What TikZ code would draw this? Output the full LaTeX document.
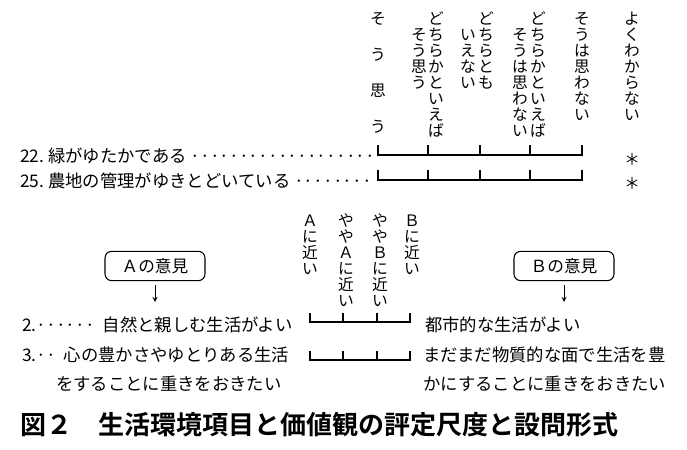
\documentclass[tikz,border=0pt]{standalone}
\usepackage{fontspec}
\setmainfont{Noto Sans CJK JP}
\newfontfamily\jpb{Noto Sans CJK JP Bold}
\makeatletter
\newdimen\vpitch
\def\vtxi#1{\ifx#1\relax\else\hbox to 1em{\hss\vrule height 0.88em depth 0.12em width 0pt #1\hss}\vskip\vpitch\expandafter\vtxi\fi}
\newcommand\vtx[2][0.02em]{\vbox{\offinterlineskip\vpitch=#1\vtxi#2\relax}}
\makeatother
\begin{document}
\begin{tikzpicture}[x=0.75pt,y=-0.75pt,
  vt/.style={anchor=north,inner sep=0pt,font=\fontsize{11.8}{12}\selectfont},
  lab/.style={anchor=west,inner sep=0pt,font=\fontsize{13}{14}\selectfont},
  scl/.style={line width=0.9pt},
  box/.style={draw,rounded corners=5pt,line width=0.8pt,minimum width=75pt,minimum height=22pt,font=\fontsize{12.5}{14}\selectfont},
  arr/.style={->,>=stealth,line width=0.7pt}]
\useasboundingbox (0,0) rectangle (687,450);
% top vertical headers
\node[vt] (h1) at (378,10) {\vtx[1.3em]{そう思う}};
\node[vt] (h2a) at (436,10) {\vtx{どちらかといえば}};
\node[vt] (h2b) at (419,26) {\vtx{そう思う}};
\node[vt] (h3a) at (486,10) {\vtx{どちらとも}};
\node[vt] (h3b) at (468,26) {\vtx{いえない}};
\node[vt] (h4a) at (538,10) {\vtx{どちらかといえば}};
\node[vt] (h4b) at (520,26) {\vtx{そうは思わない}};
\node[vt] (h5) at (582,10) {\vtx{そうは思わない}};
\node[vt] (h6) at (632,10) {\vtx{よくわからない}};
% rows 22, 25
\node[lab] (r22) at (20,156) {22.\ 緑がゆたかである\ ···················};
\node[lab] (r25) at (20,181) {25.\ 農地の管理がゆきとどいている\ ········};
\foreach \y/\n in {155/a,180/b}{
  \draw[scl] (378,\y-10) -- (378,\y) -- (582,\y) -- (582,\y-10);
  \foreach \x in {428,480,530} \draw[scl] (\x,\y-10) -- (\x,\y);
}
\node[font=\fontsize{12}{12}\selectfont] (s1) at (632,159) {＊};
\node[font=\fontsize{12}{12}\selectfont] (s2) at (632,183) {＊};
% bottom vertical headers
\node[vt] (b1) at (310,212) {\vtx{Ａに近い}};
\node[vt] (b2) at (346,212) {\vtx{ややＡに近い}};
\node[vt] (b3) at (380,212) {\vtx{ややＢに近い}};
\node[vt] (b4) at (412,212) {\vtx{Ｂに近い}};
% boxes
\node[box] (A) at (155,266) {Ａの意見};
\node[box] (B) at (564,266) {Ｂの意見};
\coordinate (Ae) at (155,302);
\coordinate (Be) at (564,302);
\draw[arr] ([yshift=-3pt]A.south) -- (Ae);
\draw[arr] ([yshift=-3pt]B.south) -- (Be);
% rows 2, 3
\node[lab] (q2) at (22,325) {2.······\ \ 自然と親しむ生活がよい};
\node[lab] (q2b) at (425,325) {都市的な生活がよい};
\node[lab] (q3) at (22,355) {3.··\ \ 心の豊かさやゆとりある生活};
\node[lab] (q3c) at (56,384) {をすることに重きをおきたい};
\node[lab] (q3b) at (423,355) {まだまだ物質的な面で生活を豊};
\node[lab] (q3d) at (423,384) {かにすることに重きをおきたい};
\foreach \y in {322,360}{
  \draw[scl] (310,\y-9) -- (310,\y) -- (410,\y) -- (410,\y-9);
  \foreach \x in {343,377} \draw[scl] (\x,\y-9) -- (\x,\y);
}
% title
\node[anchor=west,inner sep=0pt,font=\jpb\fontsize{19.5}{22}\selectfont] (title) at (20,425) {図２\quad 生活環境項目と価値観の評定尺度と設問形式};
\end{tikzpicture}
\end{document}
